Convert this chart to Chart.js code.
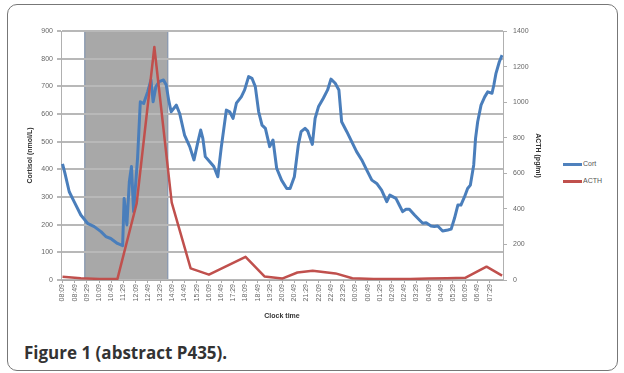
<!DOCTYPE html>
<html>
<head>
<meta charset="utf-8">
<script src="https://cdn.jsdelivr.net/npm/chart.js@4.4.1/dist/chart.umd.min.js"></script>
<style>
  html, body { margin: 0; padding: 0; background: #fff; }
  #page { position: relative; width: 624px; height: 373px; overflow: hidden; }
  #frame { position: absolute; left: 7px; top: 4px; width: 609px; height: 365px; border: 1px solid #777; border-radius: 10px; }
  #wrap { position: absolute; left: 0; top: 0; width: 560px; height: 330px; }
  .leg { position: absolute; left: 563px; font: 7px "Liberation Sans", Arial, sans-serif; color: #555; }
  .leg i { display: inline-block; width: 19px; height: 3px; vertical-align: middle; margin-right: 1px; }
  #caption { position: absolute; left: 24px; top: 344px; font: 700 17px/17px "Open Sans", sans-serif; color: #333; white-space: nowrap; }
</style>
</head>
<body>
<div id="page">
  <div id="frame"></div>
  <div id="wrap"><canvas id="chart" width="560" height="330"></canvas></div>
  <div class="leg" style="top:160px"><i style="background:#4f81bd"></i>Cort</div>
  <div class="leg" style="top:177px"><i style="background:#c0504d"></i>ACTH</div>
  <div id="caption">Figure 1 (abstract P435).</div>
</div>
<script>
// minutes after 08:09 for every x tick
var tickLabels = ["08:09","08:49","09:29","10:09","10:49","11:29","12:09","12:49","13:29","14:09","14:49","15:29",
  "16:09","16:49","17:29","18:09","18:49","19:29","20:09","20:49","21:29","22:09","22:49","23:29",
  "00:09","00:49","01:29","02:09","02:49","03:29","04:09","04:49","05:29","06:09","06:49","07:29"];
var tickMinutes = tickLabels.map(function (l, i) { return i * 40; });

// cortisol (nmol/L), left axis
var cortTimes = [0,8,22,38,60,82,104,126,142,158,180,197,202,211,219,226,233,246,255,266,279,290,297,306,317,331,
  340,348,356,373,384,400,417,431,444,453,460,468,482,496,509,520,537,548,559,570,586,597,610,621,632,643,654,665,
  679,690,702,718,735,746,760,773,782,795,804,819,828,839,855,869,880,894,906,915,932,948,964,981,997,1014,1030,1046,
  1063,1073,1093,1104,1115,1126,1137,1154,1170,1181,1192,1208,1219,1230,1246,1263,1274,1285,1296,1306,1318,1328,
  1337,1348,1354,1361,1372,1384,1394,1408,1414,1421,1432,1441];
var cortValues = [420,385,319,283,235,205,193,175,157,150,132,124,295,199,355,410,247,441,644,638,680,723,644,699,717,723,
  705,650,608,632,602,524,482,434,500,542,512,446,428,410,373,476,614,608,584,639,662,687,735,729,699,608,560,548,
  482,506,404,361,331,331,373,488,536,548,538,490,584,626,657,687,726,711,687,572,536,500,464,434,398,361,349,325,
  283,307,295,271,247,256,256,235,217,205,207,195,193,195,177,181,184,223,271,271,301,331,
  343,416,512,572,632,662,680,675,705,747,789,813];

// ACTH (pg/ml), right axis
var acthTimes = [0,60,120,180,243,301,358,420,480,600,662,720,770,820,895,950,1020,1080,1140,1200,1260,1320,1390,1441];
var acthValues = [18,10,6,6,430,1310,435,65,30,130,20,8,42,52,37,10,6,6,6,8,10,12,75,25];

// shaded period (minutes)
var shadeRange = [73, 345];

var tickFont = { family: "'Liberation Sans', Arial, sans-serif", size: 7 };
var titleFont = { family: "'Liberation Sans', Arial, sans-serif", size: 7, weight: "bold" };

function pairs(xs, ys) {
  return xs.map(function (x, i) { return { x: x, y: ys[i] }; });
}

var shadePlugin = {
  id: "shade",
  beforeDraw: function (chart) {
    var ctx = chart.ctx, a = chart.chartArea, xs = chart.scales.x;
    var x0 = xs.getPixelForValue(shadeRange[0]), x1 = xs.getPixelForValue(shadeRange[1]);
    ctx.save();
    ctx.fillStyle = "#a8a8a8";
    ctx.fillRect(x0, a.top, x1 - x0, a.bottom - a.top);
    ctx.strokeStyle = "#8394ad";
    ctx.lineWidth = 1.2;
    ctx.strokeRect(x0, a.top, x1 - x0, a.bottom - a.top);
    ctx.restore();
  }
};

new Chart(document.getElementById("chart").getContext("2d"), {
  type: "line",
  data: {
    datasets: [
      { label: "Cort", data: pairs(cortTimes, cortValues), yAxisID: "y", borderColor: "#4a7ebb", borderWidth: 3,
        pointRadius: 0, tension: 0, order: 1, borderJoinStyle: "round" },
      { label: "ACTH", data: pairs(acthTimes, acthValues), yAxisID: "y1", borderColor: "#c0504d", borderWidth: 2.5,
        pointRadius: 0, tension: 0, order: 0, borderJoinStyle: "round" }
    ]
  },
  options: {
    responsive: false,
    animation: false,
    layout: { padding: { top: 31, left: 0, right: 0, bottom: 0 } },
    plugins: { legend: { display: false }, tooltip: { enabled: false } },
    scales: {
      x: {
        type: "linear", min: -5, max: 1444,
        afterBuildTicks: function (s) { s.ticks = tickMinutes.map(function (v) { return { value: v }; }); },
        afterFit: function (s) { s.height = 50; },
        ticks: { font: tickFont, color: "#666", minRotation: 90, maxRotation: 90, autoSkip: false, padding: 1,
          callback: function (v, i) { return tickLabels[i]; } },
        grid: { drawOnChartArea: false, drawTicks: true, tickLength: 3, color: "#aaa" },
        border: { color: "#aaa" },
        title: { display: true, text: "Clock time", font: titleFont, color: "#333", padding: { top: 0, bottom: 10 } }
      },
      y: {
        position: "left", min: 0, max: 900,
        afterFit: function (s) { s.width = 61; },
        ticks: { stepSize: 100, font: tickFont, color: "#666", padding: 4 },
        grid: { color: "#b8b8b8", lineWidth: 2, tickLength: 4 },
        border: { color: "#b0b0b0" },
        title: { display: true, text: "Cortisol (nmol/L)", font: titleFont, color: "#333", padding: { top: 26, bottom: 0 } }
      },
      y1: {
        position: "right", min: 0, max: 1400,
        afterFit: function (s) { s.width = 57; },
        ticks: { stepSize: 200, font: tickFont, color: "#666", padding: 6,
          callback: function (v) { return String(v); } },
        grid: { drawOnChartArea: false, tickLength: 4, color: "#b0b0b0" },
        border: { color: "#b0b0b0" },
        title: { display: true, text: "ACTH (pg/ml)", font: titleFont, color: "#333", padding: { top: 18, bottom: 0 } }
      }
    }
  },
  plugins: [shadePlugin]
});
</script>
</body>
</html>
